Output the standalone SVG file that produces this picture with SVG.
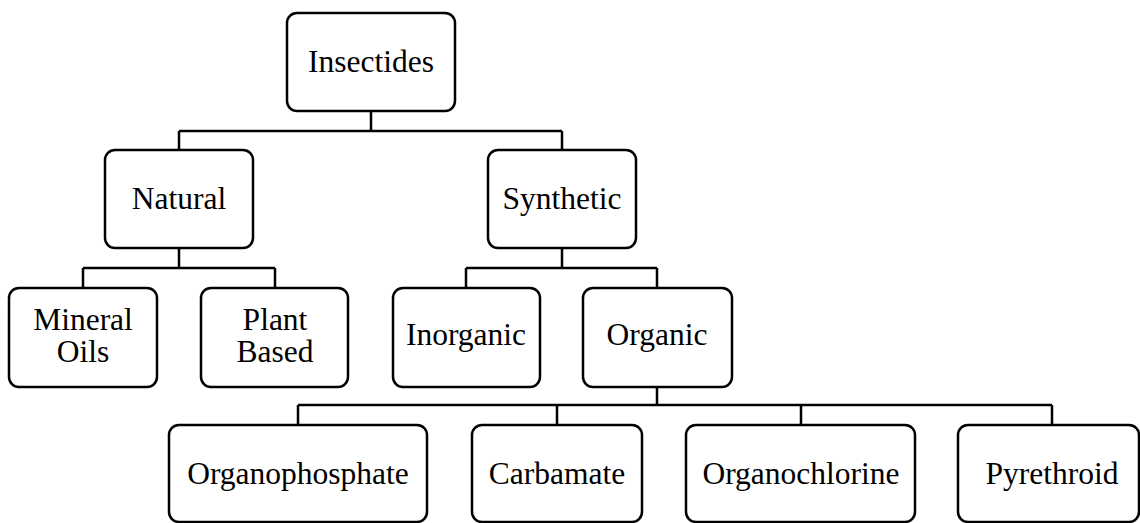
<svg xmlns="http://www.w3.org/2000/svg" width="1140" height="523" viewBox="0 0 1140 523">
  <style>
    .box { fill: #ffffff; stroke: #000000; stroke-width: 2.5; }
    .lbl { font-family: "Liberation Serif", "Times New Roman", serif; font-size: 31.5px; fill: #000000; text-anchor: middle; }
    .conn { fill: none; stroke: #000000; stroke-width: 2.5; }
  </style>
  <rect width="1140" height="523" fill="#ffffff"/>
  <g id="connectors">
    <path class="conn" d="M371 111 V131 M179 131 H562 M179 131 V150 M562 131 V150"/>
    <path class="conn" d="M179 248 V268 M83 268 H275 M83 268 V288 M275 268 V288"/>
    <path class="conn" d="M562 248 V268 M466 268 H657 M466 268 V288 M657 268 V288"/>
    <path class="conn" d="M657 387 V405 M298 405 H1052 M298 405 V425 M557 405 V425 M801 405 V425 M1052 405 V425"/>
  </g>
  <g id="insectides">
    <rect class="box" x="287" y="13" width="168" height="98" rx="10"/>
    <text class="lbl" x="371" y="72">Insectides</text>
  </g>
  <g id="natural">
    <rect class="box" x="105" y="150" width="148" height="98" rx="10"/>
    <text class="lbl" x="179" y="209">Natural</text>
  </g>
  <g id="synthetic">
    <rect class="box" x="488" y="150" width="148" height="98" rx="10"/>
    <text class="lbl" x="562" y="209">Synthetic</text>
  </g>
  <g id="mineral-oils">
    <rect class="box" x="9" y="288" width="148" height="99" rx="10"/>
    <text class="lbl" x="83" y="330">Mineral</text>
    <text class="lbl" x="83" y="362">Oils</text>
  </g>
  <g id="plant-based">
    <rect class="box" x="201" y="288" width="147" height="99" rx="10"/>
    <text class="lbl" x="275" y="330">Plant</text>
    <text class="lbl" x="275" y="362">Based</text>
  </g>
  <g id="inorganic">
    <rect class="box" x="393" y="288" width="147" height="99" rx="10"/>
    <text class="lbl" x="466" y="345">Inorganic</text>
  </g>
  <g id="organic">
    <rect class="box" x="583" y="288" width="149" height="99" rx="10"/>
    <text class="lbl" x="657" y="345">Organic</text>
  </g>
  <g id="organophosphate">
    <rect class="box" x="169" y="425" width="258" height="97" rx="10"/>
    <text class="lbl" x="298" y="484">Organophosphate</text>
  </g>
  <g id="carbamate">
    <rect class="box" x="472" y="425" width="170" height="97" rx="10"/>
    <text class="lbl" x="557" y="484">Carbamate</text>
  </g>
  <g id="organochlorine">
    <rect class="box" x="686" y="425" width="229" height="97" rx="10"/>
    <text class="lbl" x="801" y="484">Organochlorine</text>
  </g>
  <g id="pyrethroid">
    <rect class="box" x="958" y="425" width="181" height="97" rx="10"/>
    <text class="lbl" x="1052" y="484">Pyrethroid</text>
  </g>
</svg>
